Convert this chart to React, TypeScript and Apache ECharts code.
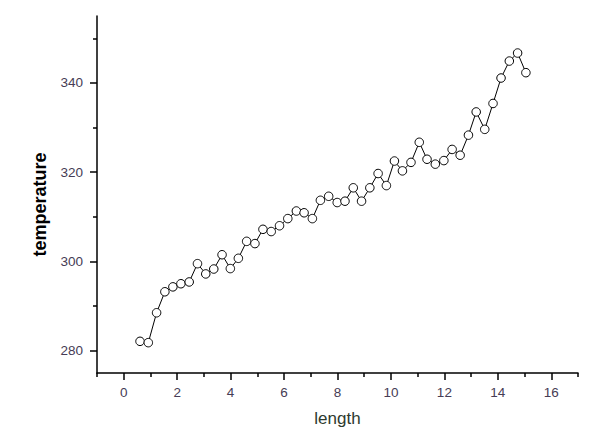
import React, { useEffect, useRef } from "react";
import * as echarts from "echarts";

const xValues = [
  0.61, 0.92, 1.23, 1.54, 1.84, 2.14, 2.45, 2.76, 3.07, 3.37, 3.68, 3.99,
  4.29, 4.6, 4.91, 5.21, 5.52, 5.83, 6.14, 6.46, 6.75, 7.06, 7.36, 7.67,
  7.99, 8.28, 8.59, 8.9, 9.21, 9.52, 9.83, 10.13, 10.43, 10.75, 11.06, 11.35,
  11.66, 11.98, 12.29, 12.59, 12.9, 13.19, 13.51, 13.82, 14.12, 14.43, 14.74, 15.05,
];
const yValues = [
  282.1, 281.8, 288.5, 293.2, 294.3, 295.0, 295.4, 299.5, 297.2, 298.3, 301.5, 298.4,
  300.7, 304.5, 304.0, 307.2, 306.7, 308.0, 309.6, 311.3, 310.9, 309.6, 313.7, 314.6,
  313.2, 313.5, 316.5, 313.5, 316.5, 319.7, 317.0, 322.5, 320.3, 322.2, 326.7, 322.9,
  321.8, 322.6, 325.1, 323.8, 328.3, 333.5, 329.6, 335.4, 341.1, 344.9, 346.7, 342.3,
];
const xMajorTicks = [0, 2, 4, 6, 8, 10, 12, 14, 16];
const xMinorTicks = [-1, 1, 3, 5, 7, 9, 11, 13, 15, 17];
const yMajorTicks = [280, 300, 320, 340];
const yMinorTicks = [290, 310, 330, 350];

export default function App() {
  const ref = useRef<HTMLDivElement>(null);
  useEffect(() => {
    if (!ref.current) return;
    const chart = echarts.init(ref.current, null, { renderer: "svg" });
    const labelColor = "#463c55";
    const font = "'Liberation Sans', Arial, sans-serif";
    chart.setOption({
      animation: false,
      backgroundColor: "#ffffff",
      grid: { left: 97, right: 26, top: 16, bottom: 67, containLabel: false },
      xAxis: [
        {
          type: "value",
          min: -1,
          max: 17,
          name: "length",
          nameLocation: "middle",
          nameGap: 37,
          nameTextStyle: { color: "#2e3a2e", fontSize: 17, fontFamily: font },
          axisLine: { show: true, onZero: false, lineStyle: { color: "#000", width: 1.5 } },
          axisTick: { show: true, customValues: xMajorTicks, length: 7, lineStyle: { color: "#000", width: 1.5 } },
          axisLabel: { customValues: xMajorTicks, margin: 12, color: labelColor, fontSize: 13.5, fontFamily: font },
          splitLine: { show: false },
        },
        {
          type: "value",
          min: -1,
          max: 17,
          position: "bottom",
          axisLine: { show: false, onZero: false },
          axisTick: { show: true, customValues: xMinorTicks, length: 4, lineStyle: { color: "#000", width: 1.5 } },
          axisLabel: { show: false },
          splitLine: { show: false },
        },
      ],
      yAxis: [
        {
          type: "value",
          min: 275,
          max: 355,
          name: "temperature",
          nameLocation: "middle",
          nameRotate: 90,
          nameGap: 48,
          nameTextStyle: { color: "#000", fontSize: 18, fontWeight: "bold", fontFamily: font, padding: [0, 20, 0, 0] },
          axisLine: { show: true, onZero: false, lineStyle: { color: "#000", width: 1.5 } },
          axisTick: { show: true, customValues: yMajorTicks, length: 7, lineStyle: { color: "#000", width: 1.5 } },
          axisLabel: { customValues: yMajorTicks, margin: 14, color: labelColor, fontSize: 13.5, fontFamily: font },
          splitLine: { show: false },
        },
        {
          type: "value",
          min: 275,
          max: 355,
          position: "left",
          axisLine: { show: false, onZero: false },
          axisTick: { show: true, customValues: yMinorTicks, length: 4, lineStyle: { color: "#000", width: 1.5 } },
          axisLabel: { show: false },
          splitLine: { show: false },
        },
      ],
      series: [
        {
          type: "line",
          xAxisIndex: 0,
          yAxisIndex: 0,
          data: xValues.map((x, i) => [x, yValues[i]]),
          symbol: "circle",
          symbolSize: 8.5,
          itemStyle: { color: "#ffffff", borderColor: "#000", borderWidth: 1 },
          lineStyle: { color: "#000", width: 1 },
        },
      ],
    });
    return () => chart.dispose();
  }, []);
  return (
    <div
      ref={ref}
      style={{ position: "fixed", left: 0, top: 0, width: 604, height: 440, background: "#fff" }}
    />
  );
}
